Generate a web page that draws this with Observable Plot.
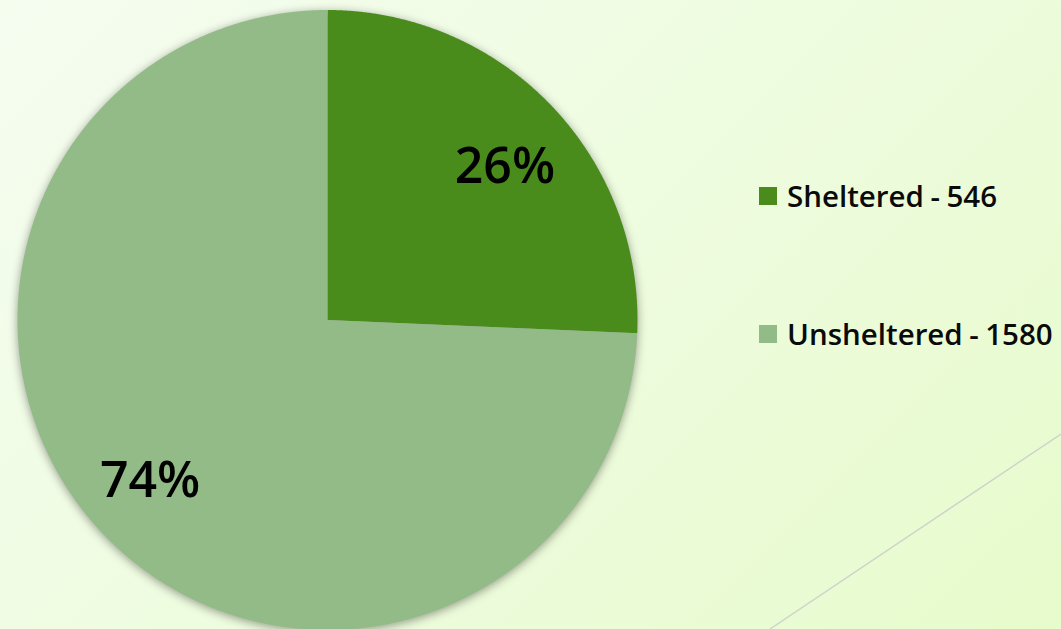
<!DOCTYPE html>
<html>
<head>
<meta charset="utf-8">
<script src="https://cdn.jsdelivr.net/npm/d3@7"></script>
<script src="https://cdn.jsdelivr.net/npm/@observablehq/plot@0.6"></script>
<style>
  html, body { margin: 0; padding: 0; }
  body {
    width: 1061px; height: 629px; overflow: hidden; position: relative;
    background: linear-gradient(135deg, #f5fdf0 0%, #eefcdf 50%, #e7fbcc 100%);
    font-family: "Open Sans", "Noto Sans", sans-serif;
  }
  #deco { position: absolute; left: 0; top: 0; }
  #chart { position: absolute; left: 0; top: 0; }
  #chart svg .slices { filter: drop-shadow(0px 2px 5px rgba(0,0,0,0.38)); }
  .legend { position: absolute; left: 759px; font-weight: 600; font-size: 29.5px; line-height: 30px; height: 30px; color: #0a0a0a; display: flex; align-items: center; white-space: nowrap; }
  .legend .sw { width: 18px; height: 18px; margin-right: 10px; flex: none; }
  .legend .dash { margin: 0 0.22em; }
</style>
</head>
<body>
<svg id="deco" width="1061" height="629"><line x1="770" y1="629" x2="1061" y2="434" stroke="#d0d3cc" stroke-width="1.5"/></svg>
<div id="chart"></div>
<div id="legend"></div>
<script>
const categories = ["Sheltered", "Unsheltered"];
const counts = [546, 1580];
const percentLabels = ["26%", "74%"];
const colors = ["#4a8c1c", "#93bb88"];

const pie = d3.pie().sort(null).value(d => d)(counts);

// polygon vertices in unit space (angle 0 = 12 o'clock, clockwise)
const polyPoints = [];
pie.forEach((s, i) => {
  polyPoints.push({cat: categories[i], x: 0, y: 0});
  const n = Math.ceil((s.endAngle - s.startAngle) / (Math.PI / 720));
  for (let k = 0; k <= n; k++) {
    const a = s.startAngle + (s.endAngle - s.startAngle) * k / n;
    polyPoints.push({cat: categories[i], x: Math.sin(a), y: Math.cos(a)});
  }
  polyPoints.push({cat: categories[i], x: 0, y: 0});
});

const labelPoints = pie.map((s, i) => {
  const a = (s.startAngle + s.endAngle) / 2 + 2.2 * Math.PI / 180;
  return {label: percentLabels[i], x: 0.765 * Math.sin(a), y: 0.765 * Math.cos(a)};
});

const chart = Plot.plot({
  width: 1061,
  height: 629,
  margin: 0,
  style: {background: "transparent", overflow: "visible"},
  x: {domain: [-1, 1], range: [17, 637], axis: null},
  y: {domain: [-1, 1], range: [629.5, 9.5], axis: null},
  color: {domain: categories, range: colors},
  marks: [
    Plot.line(polyPoints, {x: "x", y: "y", z: "cat", fill: "cat", stroke: "none", curve: "linear", className: "slices"}),
    Plot.text(labelPoints, {x: "x", y: "y", dy: 4, text: "label", fontSize: 50, fontWeight: 600, fill: "#000", fontFamily: "Open Sans, Noto Sans, sans-serif"})
  ]
});
document.getElementById("chart").appendChild(chart);

const legend = document.getElementById("legend");
const legendTops = [181, 319];
categories.forEach((c, i) => {
  const row = document.createElement("div");
  row.className = "legend";
  row.style.top = legendTops[i] + "px";
  row.innerHTML = `<span class="sw" style="background:${colors[i]}"></span><span>${c}<span class="dash">-</span>${counts[i]}</span>`;
  legend.appendChild(row);
});
</script>
</body>
</html>
